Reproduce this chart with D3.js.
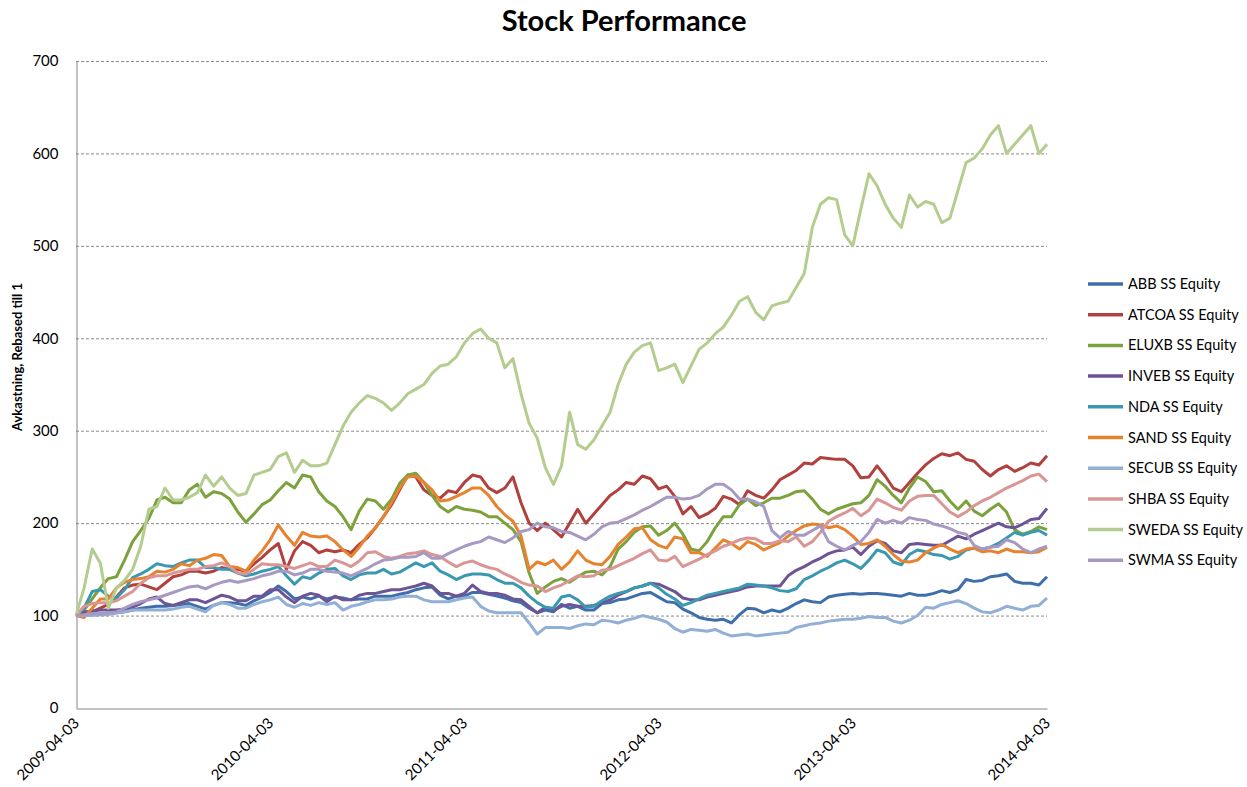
<!DOCTYPE html>
<meta charset="utf-8">
<style>
  body { margin: 0; background: #fff; }
  text { font-family: Lato, "Liberation Sans", sans-serif; fill: #000; }
  .grid line { stroke: #8c8c8c; stroke-dasharray: 3,2; }
  .axisline { stroke: #868686; stroke-width: 1; }
</style>
<body>
<script src="https://cdn.jsdelivr.net/npm/d3@7"></script>
<script>
// half-monthly readings, 2009-04-03 .. 2014-04-03 (121 points each, one row per year)
var names = ["ABB SS Equity", "ATCOA SS Equity", "ELUXB SS Equity", "INVEB SS Equity", "NDA SS Equity",
             "SAND SS Equity", "SECUB SS Equity", "SHBA SS Equity", "SWEDA SS Equity", "SWMA SS Equity"];
var colors = ["#3f6faa", "#b0413e", "#7ca23d", "#6e5496", "#3a99b1",
              "#e7822e", "#92afd6", "#d99694", "#b4cd8f", "#a899c2"];

var abb = [100,100,101,102,102,103,104,106,108,109,110,110,111,112,113,110,107,111,114,114,113,111,116,120,
  125,132,126,118,120,118,121,118,120,119,117,118,118,121,121,121,123,125,128,130,131,122,118,121,
  121,125,125,123,121,119,116,114,108,103,106,104,112,108,110,106,106,113,114,117,118,121,124,125,
  120,115,114,107,103,98,96,95,96,92,101,108,107,103,106,104,108,113,117,115,114,120,122,123,
  124,123,124,124,123,122,121,124,122,122,124,127,125,128,139,137,138,142,143,145,137,135,135,133,
  142];
var atcoa = [100,103,104,108,112,120,130,133,134,131,128,135,142,144,148,148,146,148,152,150,150,148,156,163,
  171,178,150,170,180,176,168,171,169,171,168,177,184,195,207,220,236,252,250,236,230,227,235,233,
  244,252,250,238,233,238,250,222,200,192,200,193,185,200,215,200,210,220,230,236,244,242,251,248,
  237,240,229,210,218,206,210,216,229,226,220,235,230,227,236,247,252,257,265,264,271,270,269,269,
  262,249,250,262,251,238,234,244,254,263,270,275,273,276,269,267,258,251,258,262,256,260,265,263,
  273];
var eluxb = [100,106,118,130,140,142,160,180,192,205,225,228,222,222,236,242,228,234,232,226,212,201,210,220,
  225,235,244,238,252,250,234,224,218,207,193,213,226,224,215,226,243,252,254,244,230,218,212,218,
  215,214,212,207,207,200,193,180,146,124,131,137,140,136,142,147,148,144,153,172,180,190,196,197,
  187,192,200,188,172,170,180,195,207,207,220,226,219,222,227,227,230,234,235,226,215,210,215,218,
  221,222,230,247,240,230,222,238,250,245,234,235,224,215,224,213,208,215,221,212,193,188,191,196,
  193];
var inveb = [100,104,105,106,106,106,107,109,113,118,120,113,111,114,117,117,114,118,122,120,116,116,121,121,
  128,128,120,114,121,124,122,115,121,117,117,122,124,124,126,128,128,130,132,135,132,124,124,121,
  124,133,126,124,124,122,118,117,110,103,109,106,110,112,110,110,111,114,117,122,126,130,132,135,
  134,130,126,119,117,117,120,122,124,126,128,131,132,132,132,132,143,149,153,158,162,167,170,171,
  174,166,175,181,178,170,168,177,178,177,176,176,181,186,183,188,192,196,200,196,195,199,204,205,
  216];
var nda = [100,108,126,128,121,119,128,141,145,150,156,154,153,157,160,160,152,152,150,150,146,143,145,148,
  150,153,143,134,142,140,146,150,151,143,139,144,146,146,150,145,147,152,157,153,157,148,144,139,
  143,145,145,144,139,135,135,130,121,114,109,108,120,122,117,109,110,116,121,124,126,130,132,135,
  130,123,118,111,114,118,122,124,126,128,130,134,133,132,130,127,126,129,139,143,148,152,157,160,
  156,151,160,171,168,158,155,166,171,169,166,165,161,164,171,173,172,174,178,184,190,187,190,192,
  187];
var sand = [100,98,108,118,118,130,136,139,140,142,148,147,150,156,154,160,162,166,165,153,152,148,160,170,
  182,198,186,176,190,186,185,186,180,171,164,174,186,195,207,222,238,250,251,244,236,224,225,229,
  233,238,238,230,218,209,202,186,150,158,155,160,150,158,170,160,156,155,164,177,185,194,195,182,
  176,173,185,183,168,168,164,173,182,178,172,180,177,171,175,179,186,192,197,199,198,195,197,193,
  186,177,178,182,175,166,159,158,160,168,173,177,172,168,172,173,169,170,168,172,169,169,168,169,
  174];
var secub = [100,100,100,101,101,103,104,106,106,106,106,106,107,109,110,107,104,111,114,112,108,108,112,115,
  117,120,112,109,113,111,114,112,114,106,110,112,115,117,117,118,120,121,121,117,115,115,115,117,
  119,120,110,105,103,103,103,103,92,80,87,87,87,86,89,91,90,95,94,92,95,97,100,98,
  96,93,86,82,85,84,83,85,81,78,79,80,78,79,80,81,82,87,89,91,92,94,95,96,
  96,97,99,98,98,94,92,95,100,109,108,112,114,116,113,108,104,103,106,110,108,106,110,111,
  119];
var shba = [100,110,113,114,114,116,121,126,135,141,143,143,146,148,150,150,153,154,157,153,146,145,150,156,
  155,155,153,151,154,157,153,153,160,157,153,159,168,169,164,162,164,167,168,170,166,164,158,153,
  157,159,155,152,150,145,141,136,133,132,126,130,133,138,143,142,143,149,150,154,158,162,167,171,
  160,159,164,153,157,161,166,170,175,178,182,184,183,178,178,181,180,185,175,180,190,202,207,211,
  216,208,214,226,222,217,214,224,229,230,230,221,212,207,212,219,224,228,233,238,242,246,251,253,
  245];
var sweda = [100,130,172,157,108,130,138,150,175,215,218,238,225,225,228,233,252,240,250,238,230,232,252,255,
  258,272,276,255,268,262,262,265,285,305,320,330,338,335,330,322,330,340,345,350,362,370,372,380,
  395,405,410,400,395,368,378,340,308,292,260,242,262,320,285,280,290,305,320,350,372,385,392,395,
  365,368,372,352,370,388,395,405,412,425,440,445,428,420,435,438,440,455,470,520,545,552,550,512,
  500,540,578,565,545,530,520,555,542,548,545,525,530,560,590,595,605,620,630,600,610,620,630,600,
  610];
var swma = [100,101,102,102,103,104,108,112,115,117,119,122,125,128,131,132,129,133,136,138,136,138,140,143,
  145,148,148,144,146,150,150,148,147,146,143,147,151,156,160,161,163,163,164,168,162,162,167,171,
  175,178,180,185,182,179,184,191,193,200,196,195,191,190,186,182,188,196,200,201,205,209,214,218,
  223,228,228,226,227,230,237,242,242,236,226,226,223,218,192,184,191,187,187,192,197,180,175,171,
  176,180,190,204,200,203,200,206,204,203,199,197,194,190,188,176,172,174,175,182,179,172,168,172,
  175];

var seriesValues = [abb, atcoa, eluxb, inveb, nda, sand, secub, shba, sweda, swma];
var yTicks = [0, 100, 200, 300, 400, 500, 600, 700];
var xTickLabels = ["2009-04-03", "2010-04-03", "2011-04-03", "2012-04-03", "2013-04-03", "2014-04-03"];

var width = 1247, height = 787;
var parse = d3.timeParse("%Y-%m-%d");
var start = parse(xTickLabels[0]), end = parse(xTickLabels[xTickLabels.length - 1]);
var n = abb.length;
var dates = d3.range(n).map(function(i) { return new Date(+start + i * (end - start) / (n - 1)); });

var x = d3.scaleTime().domain([start, end]).range([76, 1047]);
var y = d3.scaleLinear().domain([0, 700]).range([708, 61]);

var svg = d3.select("body").append("svg")
  .attr("width", width)
  .attr("height", height);

svg.append("text")
  .attr("x", 624).attr("y", 31)
  .attr("text-anchor", "middle")
  .style("font-size", "29px").style("font-weight", "bold")
  .text("Stock Performance");

// gridlines
svg.append("g").attr("class", "grid")
  .selectAll("line").data(yTicks.filter(function(d) { return d > 0; }))
  .join("line")
  .attr("x1", x.range()[0]).attr("x2", x.range()[1])
  .attr("y1", function(d) { return y(d) + 0.5; }).attr("y2", function(d) { return y(d) + 0.5; });

// axes
var yAxis = svg.append("g")
  .attr("transform", "translate(76.5,0)")
  .call(d3.axisLeft(y).tickValues(yTicks).tickSize(0).tickPadding(18));
yAxis.select(".domain").attr("class", "axisline");
yAxis.selectAll("text").style("font-size", "15px");

var xAxis = svg.append("g")
  .attr("transform", "translate(0,708.5)")
  .call(d3.axisBottom(x).tickValues(xTickLabels.map(parse)).tickSize(0).tickFormat(d3.timeFormat("%Y-%m-%d")));
xAxis.select(".domain").attr("class", "axisline");
xAxis.selectAll("text")
  .style("font-size", "15px")
  .attr("text-anchor", "end")
  .attr("y", 0)
  .attr("dy", "0.35em")
  .attr("transform", "translate(0,12) rotate(-45)");

svg.append("text")
  .attr("transform", "translate(22,357) rotate(-90)")
  .attr("text-anchor", "middle")
  .style("font-size", "13px").style("font-weight", "bold")
  .text("Avkastning, Rebased till 1");

// series
var line = d3.line()
  .x(function(d, i) { return x(dates[i]); })
  .y(function(d) { return y(d); });

svg.append("g").selectAll("path")
  .data(seriesValues)
  .join("path")
  .attr("fill", "none")
  .attr("stroke", function(d, i) { return colors[i]; })
  .attr("stroke-width", 3)
  .attr("stroke-linejoin", "round")
  .attr("d", line);

// legend
var legend = svg.append("g").selectAll("g")
  .data(names)
  .join("g")
  .attr("transform", function(d, i) { return "translate(1088," + (284 + i * 30.7) + ")"; });
legend.append("line")
  .attr("x1", 0).attr("x2", 35)
  .attr("stroke", function(d, i) { return colors[i]; })
  .attr("stroke-width", 3.5);
legend.append("text")
  .attr("x", 40).attr("dy", "0.35em")
  .style("font-size", "14.5px")
  .text(function(d) { return d; });
</script>
